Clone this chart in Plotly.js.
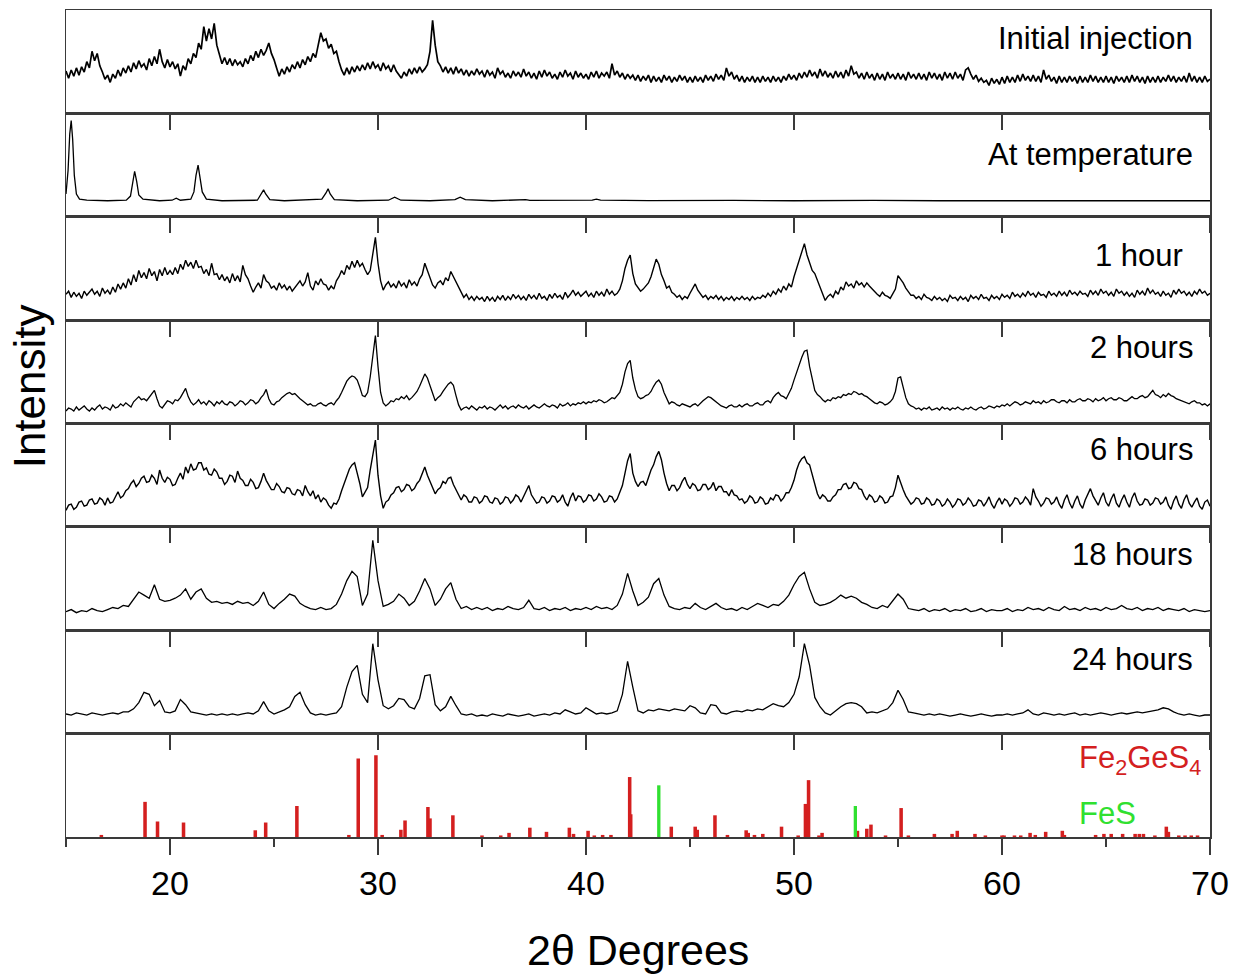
<!DOCTYPE html>
<html>
<head>
<meta charset="utf-8">
<script src="https://cdn.plot.ly/plotly-3.0.1.min.js"></script>
<style>html,body{margin:0;padding:0;background:#fff;}#chart{width:1235px;height:976px;}</style>
</head>
<body>
<div id="chart"></div>
<script>
// 2θ sampling positions (degrees), fine scan
const twoThetaFine = [
15,15.125,15.25,15.375,15.5,15.625,15.75,15.875,16,16.125,16.25,16.375,16.5,16.625,16.75,16.875,17,17.125,17.25,17.375,
17.5,17.625,17.75,17.875,18,18.125,18.25,18.375,18.5,18.625,18.75,18.875,19,19.125,19.25,19.375,19.5,19.625,19.75,19.875,
20,20.125,20.25,20.375,20.5,20.625,20.75,20.875,21,21.125,21.25,21.375,21.5,21.625,21.75,21.875,22,22.125,22.25,22.375,
22.5,22.625,22.75,22.875,23,23.125,23.25,23.375,23.5,23.625,23.75,23.875,24,24.125,24.25,24.375,24.5,24.625,24.75,24.875,
25,25.125,25.25,25.375,25.5,25.625,25.75,25.875,26,26.125,26.25,26.375,26.5,26.625,26.75,26.875,27,27.125,27.25,27.375,
27.5,27.625,27.75,27.875,28,28.125,28.25,28.375,28.5,28.625,28.75,28.875,29,29.125,29.25,29.375,29.5,29.625,29.75,29.875,
30,30.125,30.25,30.375,30.5,30.625,30.75,30.875,31,31.125,31.25,31.375,31.5,31.625,31.75,31.875,32,32.125,32.25,32.375,
32.5,32.625,32.75,32.875,33,33.125,33.25,33.375,33.5,33.625,33.75,33.875,34,34.125,34.25,34.375,34.5,34.625,34.75,34.875,
35,35.125,35.25,35.375,35.5,35.625,35.75,35.875,36,36.125,36.25,36.375,36.5,36.625,36.75,36.875,37,37.125,37.25,37.375,
37.5,37.625,37.75,37.875,38,38.125,38.25,38.375,38.5,38.625,38.75,38.875,39,39.125,39.25,39.375,39.5,39.625,39.75,39.875,
40,40.125,40.25,40.375,40.5,40.625,40.75,40.875,41,41.125,41.25,41.375,41.5,41.625,41.75,41.875,42,42.125,42.25,42.375,
42.5,42.625,42.75,42.875,43,43.125,43.25,43.375,43.5,43.625,43.75,43.875,44,44.125,44.25,44.375,44.5,44.625,44.75,44.875,
45,45.125,45.25,45.375,45.5,45.625,45.75,45.875,46,46.125,46.25,46.375,46.5,46.625,46.75,46.875,47,47.125,47.25,47.375,
47.5,47.625,47.75,47.875,48,48.125,48.25,48.375,48.5,48.625,48.75,48.875,49,49.125,49.25,49.375,49.5,49.625,49.75,49.875,
50,50.125,50.25,50.375,50.5,50.625,50.75,50.875,51,51.125,51.25,51.375,51.5,51.625,51.75,51.875,52,52.125,52.25,52.375,
52.5,52.625,52.75,52.875,53,53.125,53.25,53.375,53.5,53.625,53.75,53.875,54,54.125,54.25,54.375,54.5,54.625,54.75,54.875,
55,55.125,55.25,55.375,55.5,55.625,55.75,55.875,56,56.125,56.25,56.375,56.5,56.625,56.75,56.875,57,57.125,57.25,57.375,
57.5,57.625,57.75,57.875,58,58.125,58.25,58.375,58.5,58.625,58.75,58.875,59,59.125,59.25,59.375,59.5,59.625,59.75,59.875,
60,60.125,60.25,60.375,60.5,60.625,60.75,60.875,61,61.125,61.25,61.375,61.5,61.625,61.75,61.875,62,62.125,62.25,62.375,
62.5,62.625,62.75,62.875,63,63.125,63.25,63.375,63.5,63.625,63.75,63.875,64,64.125,64.25,64.375,64.5,64.625,64.75,64.875,
65,65.125,65.25,65.375,65.5,65.625,65.75,65.875,66,66.125,66.25,66.375,66.5,66.625,66.75,66.875,67,67.125,67.25,67.375,
67.5,67.625,67.75,67.875,68,68.125,68.25,68.375,68.5,68.625,68.75,68.875,69,69.125,69.25,69.375,69.5,69.625,69.75,69.875,70];

// 2θ sampling positions (degrees), coarse scan
const twoTheta = [
15,15.25,15.5,15.75,16,16.25,16.5,16.75,17,17.25,17.5,17.75,18,18.25,18.5,18.75,19,19.25,19.5,19.75,
20,20.25,20.5,20.75,21,21.25,21.5,21.75,22,22.25,22.5,22.75,23,23.25,23.5,23.75,24,24.25,24.5,24.75,
25,25.25,25.5,25.75,26,26.25,26.5,26.75,27,27.25,27.5,27.75,28,28.25,28.5,28.75,29,29.25,29.5,29.75,
30,30.25,30.5,30.75,31,31.25,31.5,31.75,32,32.25,32.5,32.75,33,33.25,33.5,33.75,34,34.25,34.5,34.75,
35,35.25,35.5,35.75,36,36.25,36.5,36.75,37,37.25,37.5,37.75,38,38.25,38.5,38.75,39,39.25,39.5,39.75,
40,40.25,40.5,40.75,41,41.25,41.5,41.75,42,42.25,42.5,42.75,43,43.25,43.5,43.75,44,44.25,44.5,44.75,
45,45.25,45.5,45.75,46,46.25,46.5,46.75,47,47.25,47.5,47.75,48,48.25,48.5,48.75,49,49.25,49.5,49.75,
50,50.25,50.5,50.75,51,51.25,51.5,51.75,52,52.25,52.5,52.75,53,53.25,53.5,53.75,54,54.25,54.5,54.75,
55,55.25,55.5,55.75,56,56.25,56.5,56.75,57,57.25,57.5,57.75,58,58.25,58.5,58.75,59,59.25,59.5,59.75,
60,60.25,60.5,60.75,61,61.25,61.5,61.75,62,62.25,62.5,62.75,63,63.25,63.5,63.75,64,64.25,64.5,64.75,
65,65.25,65.5,65.75,66,66.25,66.5,66.75,67,67.25,67.5,67.75,68,68.25,68.5,68.75,69,69.25,69.5,69.75,70];

// Intensities, in % of each panel's height
const initialInjection = [
41,34,42,36,44,37,45,40,50,44,60,51,58,46,40,33,37,30,38,34,
42,36,44,39,46,40,49,43,51,45,48,42,53,46,55,48,62,50,44,52,
45,50,43,48,36,46,42,53,48,58,54,68,62,84,70,82,72,87,66,58,
48,54,47,53,46,52,47,50,45,53,48,56,51,60,54,62,56,61,68,58,
52,44,36,43,38,45,40,47,43,50,44,52,47,55,50,58,54,66,78,70,
72,63,67,58,60,50,42,37,44,38,45,40,46,41,47,42,49,43,50,44,
47,41,49,43,46,40,47,41,38,34,40,36,43,38,44,39,45,40,43,47,
60,90,66,50,46,40,45,39,44,38,45,39,43,37,42,36,41,37,43,38,
41,35,42,37,40,34,44,38,41,35,39,34,41,36,40,35,43,36,40,34,
39,33,41,35,42,36,40,34,38,33,40,35,42,36,39,33,41,35,39,34,
38,33,40,35,41,34,39,36,40,34,48,37,41,35,39,33,38,34,37,32,
37,31,36,32,37,30,36,31,35,30,37,32,36,30,35,31,37,32,36,30,
35,30,36,31,35,30,37,32,36,31,38,33,37,32,44,36,40,33,37,31,
36,30,35,31,36,30,35,30,36,31,35,30,36,31,35,30,36,32,38,33,
37,32,39,34,40,35,42,36,40,34,43,36,41,35,39,34,41,35,40,34,
42,36,46,38,40,34,39,33,40,34,38,32,39,33,38,32,40,34,38,33,
39,33,38,32,40,34,38,33,39,33,38,32,40,34,39,33,38,32,40,34,
39,33,40,34,38,32,42,44,38,33,37,31,34,30,32,27,34,29,33,28,
35,29,36,30,35,30,37,31,38,32,36,31,37,31,36,30,42,33,37,31,
35,29,36,30,35,30,36,31,35,29,36,30,35,30,37,31,36,30,35,30,
36,30,35,29,36,31,35,30,36,30,37,31,36,30,35,29,36,30,35,30,
36,30,35,31,37,31,36,30,35,31,36,30,39,31,36,30,35,30,36,31,33];

const atTempX = [15.0,15.1,15.18,15.25,15.32,15.4,15.5,15.65,16.0,17.0,17.9,18.1,18.2,18.3,18.4,18.5,18.7,19.5,20.1,20.3,20.5,21.0,21.15,21.25,21.35,21.45,21.55,21.75,22.5,24.2,24.4,24.5,24.6,24.8,25.5,27.3,27.5,27.6,27.7,27.9,29.0,30.5,30.8,31.1,32.5,33.7,33.95,34.2,35.5,36.9,37.1,37.3,39,40.3,40.5,40.7,43,46.7,46.9,47.1,50,53.4,53.6,53.8,57,60,63,66,70];
const atTempY = [22,45,80,93,75,40,22,17,16,15.5,16,20,32,44,34,21,17,15.5,16,18,16,17,24,40,50,38,24,17,15.5,16,22,26,22,16.5,15.5,17,23,27,22,16.5,15.5,16,19,16,15.5,16.5,19,16.5,15.5,15.8,16.5,15.8,15.5,16,17,16,15.5,15.8,16.5,15.8,15.5,15.8,16.5,15.8,15.5,15.6,15.5,15.6,15.5];

const oneHour = [
25,28,22,27,23,26,21,28,24,27,30,25,28,23,31,26,29,25,32,27,
35,30,36,31,40,34,44,37,48,41,46,40,50,43,47,38,49,43,51,44,
48,44,51,45,54,49,58,52,56,50,58,51,52,45,49,43,55,44,45,39,
44,38,42,36,45,38,43,37,53,44,40,33,27,32,36,31,44,38,36,31,
33,29,36,31,34,29,33,28,31,35,38,33,37,46,33,29,38,34,40,35,
34,29,33,30,38,42,48,44,53,49,57,51,58,52,55,49,44,48,62,80,
55,38,29,34,37,32,35,31,38,33,36,31,39,34,37,33,40,44,55,48,
41,34,31,36,38,34,41,38,47,42,37,31,26,22,25,20,23,19,23,20,
22,18,23,19,22,18,23,20,24,19,23,20,25,21,24,20,23,19,25,21,
24,20,26,21,23,19,25,21,26,22,24,20,27,22,25,29,24,27,23,26,
28,23,26,22,28,24,27,23,30,25,28,24,26,30,38,50,58,63,45,35,
32,28,30,33,36,42,50,59,54,44,38,31,33,27,25,22,24,20,23,21,
26,30,35,29,26,22,24,20,23,21,24,20,23,19,22,20,23,19,22,20,
23,20,22,19,23,20,22,21,24,22,26,23,28,25,30,27,33,29,35,32,
42,50,58,66,74,63,55,48,45,38,32,25,19,23,25,22,28,25,32,29,
37,33,35,31,38,34,36,32,36,33,30,27,25,23,27,24,23,21,26,30,
43,40,36,31,28,24,24,21,23,20,25,22,21,19,23,20,22,19,21,18,
24,21,22,19,23,20,22,18,24,21,23,20,25,21,22,19,24,21,23,20,
25,22,24,21,27,23,25,22,26,23,28,24,26,22,27,24,25,22,28,24,
26,23,28,24,27,23,29,25,27,24,28,25,26,23,29,25,28,24,30,26,
28,24,27,23,30,26,28,24,27,23,26,22,29,25,28,24,31,26,29,25,
27,23,28,24,26,22,29,25,30,26,28,24,27,23,28,25,30,26,28,24,26];

const twoHours = [
12,15,14,12,16,13,15,17,14,12,15,13,16,18,14,16,15,13,18,15,
16,19,17,20,18,16,21,24,26,23,24,22,25,29,32,24,17,15,19,22,
21,19,23,22,25,30,34,26,21,18,20,23,19,21,18,22,20,17,21,19,
22,19,18,21,20,17,19,22,21,18,20,23,22,19,21,25,28,33,24,19,
18,21,22,25,27,29,30,28,29,26,24,22,20,18,19,17,17,19,20,18,
17,19,20,18,22,25,30,36,41,44,46,45,42,35,27,26,30,45,66,85,
55,30,20,17,19,22,21,24,23,26,24,27,23,25,28,31,36,42,48,44,
37,28,22,25,27,31,35,38,40,37,27,18,13,15,16,14,17,15,13,16,
15,17,14,16,15,13,16,18,15,17,14,16,17,15,18,16,15,17,14,16,
18,16,15,17,19,17,16,18,17,15,19,17,18,20,17,19,18,20,19,21,
19,21,20,22,21,23,22,20,21,23,25,24,27,30,38,50,58,61,44,33,
26,24,25,27,28,31,36,40,42,38,30,24,19,21,20,18,17,19,18,17,
16,18,19,17,20,22,24,26,25,23,21,19,17,16,15,17,18,16,16,18,
16,18,19,17,17,19,20,18,18,21,22,20,25,28,30,27,26,24,29,34,
42,50,57,64,70,71,55,42,32,28,26,23,21,23,22,25,24,26,25,28,
27,29,28,31,30,28,29,27,26,24,22,20,19,21,20,18,19,21,24,31,
44,45,35,25,19,17,16,14,15,13,15,14,16,13,14,15,13,16,14,15,
13,15,14,16,14,13,15,14,16,14,13,15,16,14,15,17,16,15,17,16,
18,17,19,17,19,21,20,18,19,21,20,19,22,20,21,19,22,20,21,23,
23,21,20,22,22,20,23,21,21,23,24,22,22,24,23,21,24,22,23,25,
22,24,25,23,23,25,24,22,22,24,26,24,24,26,27,25,26,29,32,28,
27,25,28,26,29,27,26,24,23,22,21,20,19,21,22,20,20,18,19,17,19];

const sixHours = [
16,21,22,17,19,24,25,20,21,26,27,22,23,28,26,21,28,23,24,29,
34,28,30,35,37,42,45,39,42,47,49,43,44,50,47,41,55,47,43,48,
46,40,41,47,52,46,58,52,61,55,56,62,62,55,57,51,50,56,53,47,
47,41,44,50,49,43,54,47,45,40,40,46,43,37,38,44,52,45,41,36,
36,42,39,34,33,38,37,32,31,36,35,30,40,34,30,35,27,31,24,28,
26,21,18,23,22,27,35,42,50,56,60,62,52,42,29,33,38,55,70,84,
50,30,18,24,26,31,33,38,39,34,36,41,40,35,37,42,45,52,58,50,
44,37,32,36,38,44,42,47,48,41,36,30,26,31,29,24,24,29,28,23,
25,30,29,24,23,28,27,22,24,29,28,23,26,31,29,24,29,34,40,31,
27,23,24,29,28,23,25,30,29,24,26,31,24,20,28,33,25,30,29,24,
26,31,30,25,27,32,29,24,25,30,29,24,27,33,40,52,64,71,52,44,
39,43,44,40,48,55,60,68,73,65,52,42,35,40,40,35,38,44,48,41,
37,42,40,35,36,41,41,36,38,43,35,39,39,34,34,30,36,31,30,26,
27,23,25,30,28,23,24,29,27,22,23,28,26,31,30,25,28,33,33,38,
45,55,62,66,68,62,60,50,40,32,27,31,29,25,25,29,31,36,36,41,
42,37,38,43,42,37,36,30,26,31,29,24,25,30,28,23,24,29,30,38,
50,42,36,30,26,22,24,28,27,22,23,28,26,21,22,27,25,20,22,27,
24,19,22,27,26,21,23,28,25,20,21,26,25,20,24,29,22,18,24,28,
22,27,25,20,23,28,27,22,24,29,26,21,37,29,25,20,23,28,27,22,
24,29,22,18,26,31,23,18,25,30,22,18,26,31,37,30,25,21,28,33,
24,20,27,32,23,19,26,31,24,19,28,33,25,21,22,27,26,21,23,28,
27,22,24,29,21,17,25,30,22,18,26,31,23,19,24,28,20,17,24,26,20];

const eighteenHours = [
18,20,17,19,18,21,19,18,20,22,21,24,23,30,37,34,31,44,30,28,
29,31,34,40,30,37,40,31,27,28,26,27,25,28,26,27,24,28,37,25,
21,26,30,35,33,26,23,21,20,22,20,21,25,35,48,57,52,24,35,87,
48,23,25,28,35,31,24,28,38,50,40,24,30,40,46,30,21,23,20,22,
20,22,19,21,20,23,21,20,22,29,21,20,22,19,21,20,22,19,21,20,
22,20,23,21,22,20,24,35,55,38,24,27,32,45,50,34,23,21,20,22,
21,26,22,20,23,26,22,20,21,19,22,20,23,26,24,22,25,24,28,34,
44,52,56,40,27,24,25,27,30,34,31,33,31,27,25,22,21,24,22,28,
35,30,21,20,19,21,18,20,19,21,18,20,19,21,18,19,21,18,20,19,
19,21,18,20,19,22,20,21,19,22,20,19,23,20,21,19,22,20,21,19,
22,20,21,24,21,20,22,19,21,20,22,19,21,20,19,21,18,20,19,18,19];

const twentyFourHours = [
19,18,20,19,18,20,19,18,19,20,19,21,21,24,30,40,38,27,32,21,
20,22,33,28,21,20,19,18,19,18,19,18,19,18,19,20,19,22,31,22,
19,21,23,26,36,40,28,20,18,19,18,19,20,26,45,60,66,38,30,87,
52,27,24,27,34,33,26,24,34,56,57,28,22,26,36,27,19,18,19,17,
18,17,19,18,17,19,18,17,18,19,17,18,19,18,20,19,23,21,19,20,
25,22,19,20,19,20,22,38,70,45,22,20,23,22,24,23,22,24,23,22,
27,25,20,19,28,27,20,19,21,22,21,23,22,24,23,26,29,27,26,30,
38,55,87,66,35,26,20,18,22,26,29,30,29,26,20,21,20,22,24,30,
42,33,21,20,19,18,19,18,19,18,17,18,19,18,17,18,19,18,17,18,
18,19,18,19,20,23,19,18,20,19,18,19,18,19,20,18,19,18,19,20,
19,18,19,20,19,20,21,20,21,22,23,25,24,21,19,18,19,18,17,18,18];

// Reference stick patterns (position, relative intensity)
const fe2ges4X = [16.7,18.8,19.4,20.65,24.1,24.6,26.1,28.6,29.05,29.9,30.2,31.1,31.3,32.4,32.5,33.6,35.0,35.9,36.3,37.3,38.1,39.2,39.4,40.1,40.4,40.8,41.2,42.1,42.15,44.1,45.25,45.35,46.2,46.8,47.7,47.8,48.1,48.5,49.4,50.2,50.55,50.7,51.2,51.35,53.05,53.5,53.7,54.4,55.15,55.5,56.75,57.6,57.85,58.7,59.2,60.0,60.1,60.6,60.9,61.35,61.6,62.1,62.9,63.0,64.5,64.9,65.25,65.8,66.4,66.6,66.8,67.35,67.9,68.0,68.5,68.8,69.1,69.4];
const fe2ges4H = [2,34,15,14,6.5,14,30,2,76,79,2,7,16,29,18,21,1.5,1.5,4,9,5,9,3,6,1.5,2,2,58,22,10,10,7,21,2,6.5,4,2,3,10,1.5,32,55,1.5,4,6,8,12,1.5,28,1.5,3,3,6,3,1.5,1.5,1.5,1.5,1.5,4,2,5,6,2,2,3,3,3,3,3,3,1.5,10,5,1.5,1.5,1.5,1.5];
const fesX = [43.5,52.95];
const fesH = [50,30];

const panelLabels = ["Initial injection","At temperature","1 hour","2 hours","6 hours","18 hours","24 hours"];

const FONT = "Liberation Sans, Arial, Helvetica, sans-serif";
const AX = "#3a3a3a";
const RED = "#d41f1f";
const GREEN = "#30e030";

const series = [
  {x: twoThetaFine, y: initialInjection, w: 1.7},
  {x: atTempX, y: atTempY, w: 1.3},
  {x: twoThetaFine, y: oneHour, w: 1.4},
  {x: twoThetaFine, y: twoHours, w: 1.3},
  {x: twoThetaFine, y: sixHours, w: 1.4},
  {x: twoTheta, y: eighteenHours, w: 1.3},
  {x: twoTheta, y: twentyFourHours, w: 1.3}
];

const data = [];
series.forEach((s, i) => {
  const k = i + 1;
  data.push({type: "scatter", mode: "lines", x: s.x, y: s.y,
    xaxis: k === 1 ? "x" : "x" + k, yaxis: k === 1 ? "y" : "y" + k,
    line: {color: "#000", width: s.w}, hoverinfo: "skip"});
});
data.push({type: "bar", x: fe2ges4X, y: fe2ges4H, width: 0.17, xaxis: "x8", yaxis: "y8",
  marker: {color: RED, line: {width: 0}}, hoverinfo: "skip"});
data.push({type: "bar", x: fesX, y: fesH, width: 0.16, xaxis: "x8", yaxis: "y8",
  marker: {color: GREEN, line: {width: 0}}, hoverinfo: "skip"});

const layout = {
  width: 1235, height: 976,
  margin: {l: 66, r: 25, t: 10, b: 139},
  paper_bgcolor: "#fff", plot_bgcolor: "#fff",
  showlegend: false, barmode: "overlay",
  font: {family: FONT, color: "#000"},
  annotations: []
};

for (let k = 1; k <= 8; k++) {
  const xa = {
    anchor: "y" + (k === 1 ? "" : k), domain: [0, 1], range: [15, 70],
    showline: true, mirror: true, linecolor: AX, linewidth: 1.5,
    ticks: "outside", ticklen: 15, tickwidth: 1.5, tickcolor: AX,
    tick0: 0, dtick: 10, showgrid: false, zeroline: false,
    showticklabels: k === 8, fixedrange: true
  };
  if (k === 8) {
    xa.ticklen = 16;
    xa.tickfont = {size: 34, family: FONT, color: "#000"};
    xa.minor = {ticks: "outside", dtick: 5, tick0: 0, ticklen: 8, tickwidth: 1.5, tickcolor: AX, showgrid: false};
  }
  const ya = {
    domain: [(8 - k) / 8, (9 - k) / 8], range: [0, 100],
    showline: true, mirror: true, linecolor: AX, linewidth: 1.5,
    ticks: "", showticklabels: false, showgrid: false, zeroline: false, fixedrange: true
  };
  layout[k === 1 ? "xaxis" : "xaxis" + k] = xa;
  layout[k === 1 ? "yaxis" : "yaxis" + k] = ya;
}

// panel labels (paper coordinates)
const labelY = [0.966, 0.8247, 0.7037, 0.5913, 0.468, 0.341, 0.2152];
const labelX = [0.9869, 0.9869, 0.978, 0.9869, 0.9869, 0.9869, 0.9869];
panelLabels.forEach((t, i) => {
  layout.annotations.push({text: t, xref: "paper", yref: "paper", x: labelX[i], y: labelY[i],
    xanchor: "right", yanchor: "middle", showarrow: false,
    font: {size: 31, family: FONT, color: "#000"}});
});
layout.annotations.push({text: "Fe<sub>2</sub>GeS<sub>4</sub>", xref: "paper", yref: "paper",
  x: 0.8838, y: 0.093, xanchor: "left", yanchor: "middle", showarrow: false,
  font: {size: 31, family: FONT, color: RED}});
layout.annotations.push({text: "FeS", xref: "paper", yref: "paper",
  x: 0.8838, y: 0.029, xanchor: "left", yanchor: "middle", showarrow: false,
  font: {size: 31, family: FONT, color: GREEN}});
layout.annotations.push({text: "Intensity", xref: "paper", yref: "paper",
  x: -0.0323, y: 0.545, xanchor: "center", yanchor: "middle", textangle: -90, showarrow: false,
  font: {size: 44, family: FONT, color: "#000"}});
layout.annotations.push({text: "2θ Degrees", xref: "paper", yref: "paper",
  x: 0.5, y: -0.1366, xanchor: "center", yanchor: "middle", showarrow: false,
  font: {size: 43, family: FONT, color: "#000"}});

Plotly.newPlot("chart", data, layout, {displayModeBar: false, staticPlot: true});
</script>
</body>
</html>
